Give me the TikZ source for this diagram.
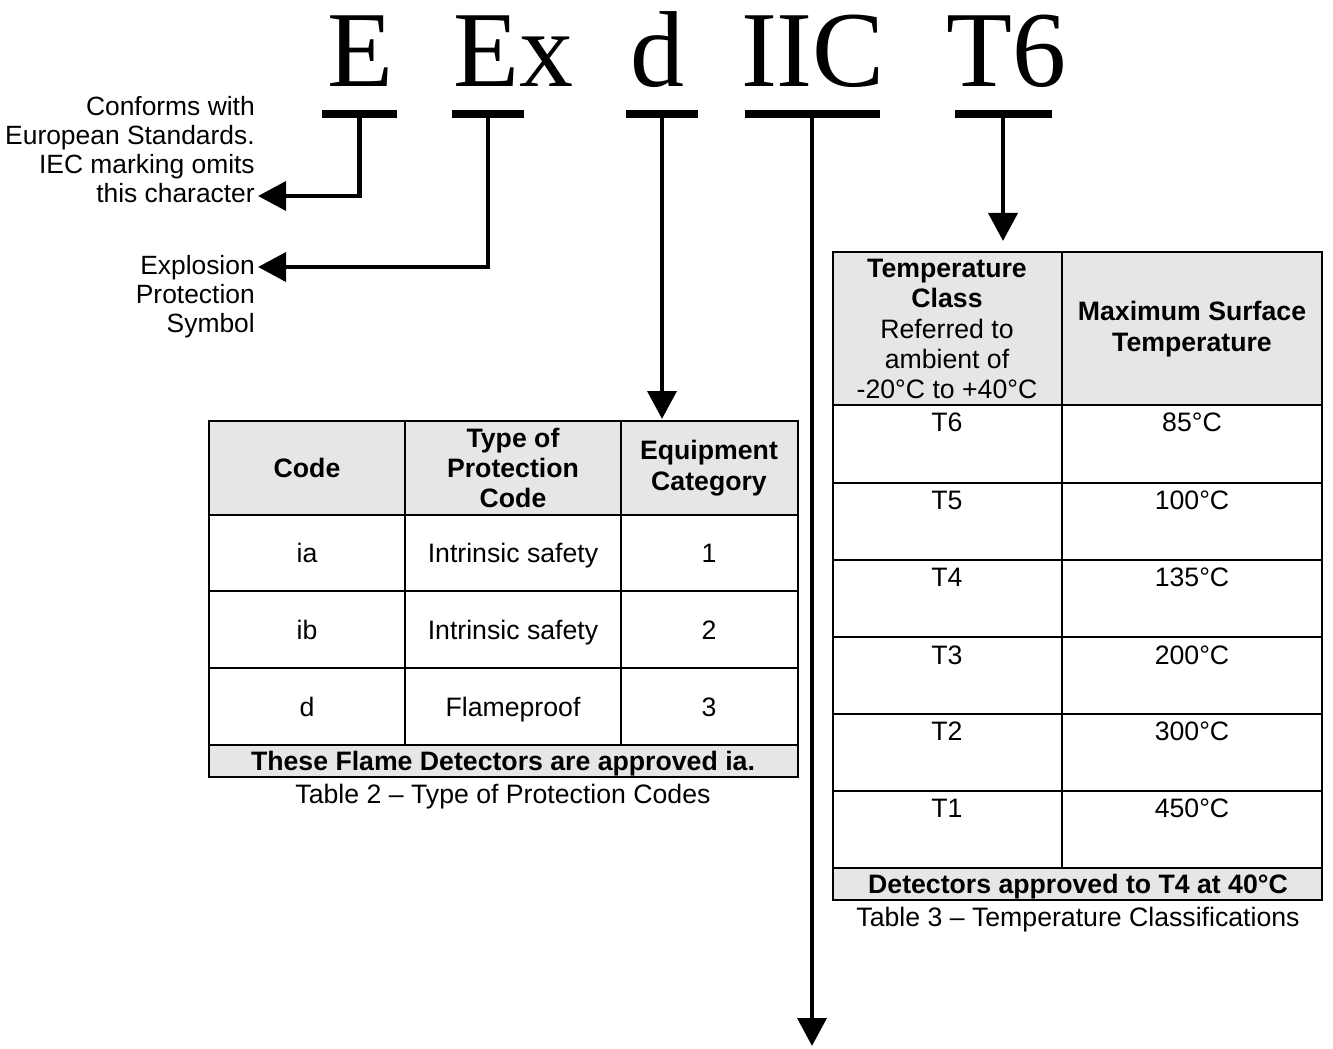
\documentclass[tikz,border=0pt]{standalone}
\usepackage{fontspec}
\setmainfont{Liberation Sans}
\newfontfamily\bigserif{Liberation Serif}
\usetikzlibrary{arrows.meta}
\definecolor{hdrgray}{RGB}{230,230,230}
\newcommand\bigfont{\bigserif\fontsize{81}{81}\selectfont}
\newcommand\lblfont{\fontsize{19.8}{21.75}\selectfont}
\newcommand\cellfont{\fontsize{20}{22.8}\selectfont}
\begin{document}
\begin{tikzpicture}[x=0.75pt,y=-0.75pt,
  big/.style={font=\bigfont, anchor=base, inner sep=0pt, outer sep=0pt},
  barbox/.style={fill=black, draw=none, minimum height=6pt, inner sep=0pt, outer sep=0pt},
  conn/.style={line width=3.6pt, -{Triangle[length=21pt,width=21.5pt]}},
  lbl/.style={font=\lblfont, align=right, inner sep=0pt, anchor=east},
  cell/.style={font=\cellfont, align=center, inner sep=0pt},
  cellb/.style={font=\cellfont, inner sep=0pt, anchor=base},
  grid/.style={line width=2.2pt},
  hdr/.style={fill=hdrgray}]
\useasboundingbox (0,0) rectangle (1333,1048);

% big marking letters
\node[big] (tE)   at (360,87)  {E};
\node[big] (tEx)  at (513,87)  {Ex};
\node[big] (td)   at (657,87)  {d};
\node[big] (tIIC) at (813,87)  {IIC};
\node[big] (tT6)  at (1006,87) {T6};

% bars
\node[barbox, minimum width=56.25pt]  (barE)   at (359.5,114) {};
\node[barbox, minimum width=54pt]     (barEx)  at (488,114)   {};
\node[barbox, minimum width=54pt]     (barD)   at (662,114)   {};
\node[barbox, minimum width=101.25pt] (barIIC) at (812,114) {};
\node[barbox, minimum width=72.75pt]  (barT6)  at (1003,114) {};

% left labels
\node[lbl] (lblE) at (255,150) {Conforms with\\European Standards.\\IEC marking omits\\this character};
\node[lbl] (lblEx) at (255,297) {Explosion\\Protection\\Symbol};

% arrow tips
\coordinate (tipE) at (258,196);
\coordinate (tipEx) at (258,267);
\coordinate (tipD) at (662,419);
\coordinate (tipIIC) at (812,1046);
\coordinate (tipT6) at (1003,241);

\draw[conn] (barE.south) |- (tipE);
\draw[conn] (barEx.south) |- (tipEx);
\draw[conn] (barD.south) -- (tipD);
\draw[conn] (barIIC.south) -- (tipIIC);
\draw[conn] (barT6.south) -- (tipT6);

% ---------- Table 2 ----------
\fill[hdr] (209,421) rectangle (798,515);
\fill[hdr] (209,745) rectangle (798,777);
\draw[grid] (209,421) rectangle (798,777);
\draw[grid] (209,515) -- (798,515) (209,591) -- (798,591)
            (209,668) -- (798,668) (209,745) -- (798,745);
\draw[grid] (405,421) -- (405,745) (621,421) -- (621,745);

\node[cellb] (h2a) at (307,477) {\textbf{Code}};
\node[cell] (h2b) at (513,468) {\textbf{Type of}\\\textbf{Protection}\\\textbf{Code}};
\node[cell] (h2c) at (709,468) {\textbf{Equipment}\\\textbf{Category}};
\node[cellb] (r1a) at (307,562) {ia};
\node[cellb] (r1b) at (513,562) {Intrinsic safety};
\node[cellb] (r1c) at (709,562) {1};
\node[cellb] (r2a) at (307,639) {ib};
\node[cellb] (r2b) at (513,639) {Intrinsic safety};
\node[cellb] (r2c) at (709,639) {2};
\node[cellb] (r3a) at (307,716) {d};
\node[cellb] (r3b) at (513,716) {Flameproof};
\node[cellb] (r3c) at (709,716) {3};
\node[cellb] (f2) at (503,770) {\textbf{These Flame Detectors are approved ia.}};
\node[cellb] (cap2) at (503,803) {Table 2 – Type of Protection Codes};

% ---------- Table 3 ----------
\fill[hdr] (833,252) rectangle (1322,405);
\fill[hdr] (833,868) rectangle (1322,900);
\draw[grid] (833,252) rectangle (1322,900);
\foreach \yy in {405,483,560,637,714,791,868}
  \draw[grid] (833,\yy) -- (1322,\yy);
\draw[grid] (1062,252) -- (1062,868);

\node[cell] (h3a) at (947,329) {\textbf{Temperature}\\\textbf{Class}\\Referred to\\ambient of\\-20°C to +40°C};
\node[cell] (h3b) at (1192,329) {\textbf{Maximum Surface}\\\textbf{Temperature}};
\node[cellb] (t6a) at (947,431) {T6};   \node[cellb] (t6b) at (1192,431) {85°C};
\node[cellb] (t5a) at (947,509) {T5};   \node[cellb] (t5b) at (1192,509) {100°C};
\node[cellb] (t4a) at (947,586) {T4};   \node[cellb] (t4b) at (1192,586) {135°C};
\node[cellb] (t3a) at (947,664) {T3};   \node[cellb] (t3b) at (1192,664) {200°C};
\node[cellb] (t2a) at (947,740) {T2};   \node[cellb] (t2b) at (1192,740) {300°C};
\node[cellb] (t1a) at (947,817) {T1};   \node[cellb] (t1b) at (1192,817) {450°C};
\node[cellb] (f3) at (1078,893) {\textbf{Detectors approved to T4 at 40°C}};
\node[cellb] (cap3) at (1078,926) {Table 3 – Temperature Classifications};
\end{tikzpicture}
\end{document}
